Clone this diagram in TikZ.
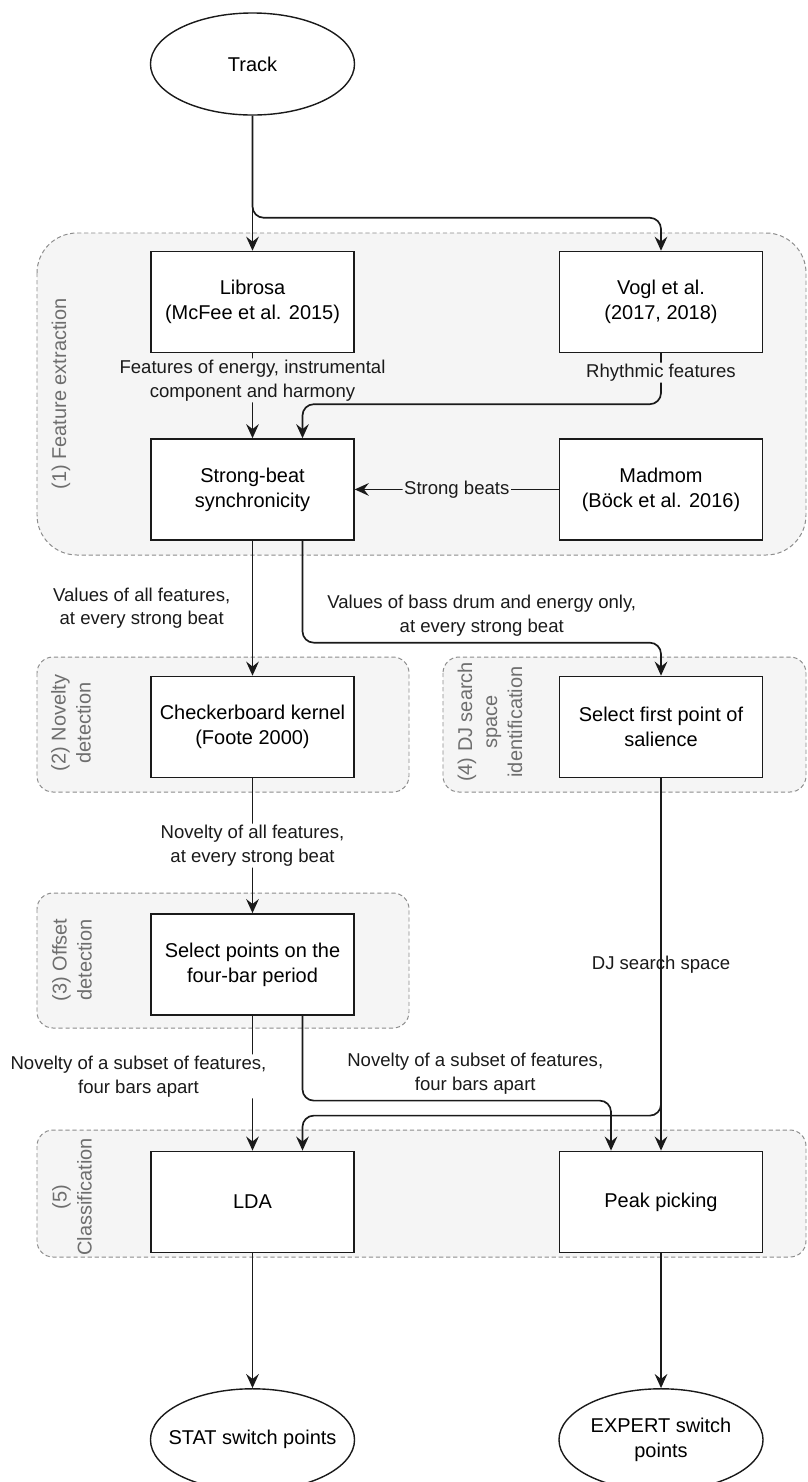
\documentclass[tikz,border=0pt]{standalone}
\usepackage{fontspec}
\setmainfont{Liberation Sans}
\usetikzlibrary{shapes.geometric,arrows.meta,positioning,calc}
\definecolor{fcline}{RGB}{26,26,26}
\definecolor{fcgroup}{RGB}{245,245,245}
\definecolor{fcdash}{RGB}{140,140,140}
\definecolor{fcgray}{RGB}{110,110,110}

\begin{document}
\begin{tikzpicture}[
  x=0.025cm, y=-0.025cm,
  node distance=3.375cm and 5.1cm,
  box/.style={draw=fcline,line width=1pt,fill=white,minimum width=5.075cm,
              minimum height=2.525cm,align=center,inner sep=2pt,
              font=\fontsize{14.2}{17.8}\selectfont},
  term/.style={box,ellipse,inner xsep=-0.3cm,inner ysep=0pt,
               minimum width=5.1cm,minimum height=2.55cm},
  grp/.style={draw=fcdash,dash pattern=on 3pt off 2pt,line width=0.7pt,fill=fcgroup},
  grplbl/.style={rotate=90,align=center,text=fcgray,font=\fontsize{14.2}{17.8}\selectfont},
  lbl/.style={align=center,inner sep=1pt,text=fcline,font=\fontsize{13.2}{17}\selectfont},
  arr/.style={-{Stealth[length=10pt,width=9pt,inset=3.5pt]},line width=1.2pt,color=fcline,
              rounded corners=8pt}]

  \useasboundingbox (0,0) rectangle (808,1482);

  % stage frames
  \draw[grp,rounded corners=1cm] (37,233) rectangle (806,555);
  \draw[grp,rounded corners=0.4cm] (37,657) rectangle (409,792);
  \draw[grp,rounded corners=0.4cm] (443,657) rectangle (806,792);
  \draw[grp,rounded corners=0.4cm] (37,893) rectangle (409,1028);
  \draw[grp,rounded corners=0.4cm] (37,1130) rectangle (806,1257);

  \node[grplbl] (g1) at (61,394) {(1) Feature extraction};
  \node[grplbl] (g2) at (71,723) {(2) Novelty\\detection};
  \node[grplbl] (g4) at (490,722) {(4) DJ search\\space\\identification};
  \node[grplbl] (g3) at (72,960) {(3) Offset\\detection};
  \node[grplbl] (g5) at (72,1197) {(5)\\Classification};

  % blocks
  \node[term] (track) at (252.5,64) {Track};
  \node[box,below=of track] (librosa) {Librosa\\(McFee et al. 2015)};
  \node[box,right=of librosa] (vogl) {Vogl et al.\\(2017, 2018)};
  \node[box,below=2.125cm of librosa] (strong) {Strong-beat\\synchronicity};
  \node[box,right=of strong] (madmom) {Madmom\\(Böck et al. 2016)};
  \node[box,below=of strong] (checker) {Checkerboard kernel\\(Foote 2000)};
  \node[box,right=of checker] (salience) {Select first point of\\salience};
  \node[box,below=of checker] (fourbar) {Select points on the\\four-bar period};
  \node[box,below=of fourbar] (lda) {LDA};
  \node[box,right=of lda] (peak) {Peak picking};
  \node[term,below=of lda] (stat) {STAT switch points};
  \node[term,below=of peak] (expert) {EXPERT switch\\points};

  % flows
  \draw[arr] (track) -- (librosa);
  \draw[arr] (track.south) |- ($(vogl.north)+(0,-33)$) -- (vogl.north);
  \draw[arr] (librosa) -- node[lbl,fill=fcgroup,pos=0.32]{Features of energy, instrumental\\component and harmony} (strong);
  \draw[arr] (vogl.south) |- node[lbl,fill=fcgroup,pos=0.19]{Rhythmic features} ($(strong.north)+(50,-34)$) -- ($(strong.north)+(50,0)$);
  \draw[arr] (madmom) -- node[lbl,fill=fcgroup]{Strong beats} (strong);
  \draw[arr] (strong) -- node[lbl,left=5mm]{Values of all features,\\at every strong beat} (checker);
  \draw[arr] ($(strong.south)+(50,0)$) |- node[lbl,above=3pt,pos=0.75]{Values of bass drum and energy only,\\at every strong beat} ($(salience.north)+(0,-33)$) -- (salience.north);
  \draw[arr] (checker) -- node[lbl,fill=white]{Novelty of all features,\\at every strong beat} (fourbar);
  \draw[arr] (salience) -- node[lbl,fill=white]{DJ search space} (peak);
  \draw[arr] (salience.south) |- ($(lda.north)+(50,-35)$) -- ($(lda.north)+(50,0)$);
  \draw[arr] (fourbar) -- node[lbl,fill=white,pos=0.45,xshift=-2.85cm]{Novelty of a subset of features,\\four bars apart} (lda);
  \draw[arr] ($(fourbar.south)+(50,0)$) |- node[lbl,above=3pt,pos=0.78]{Novelty of a subset of features,\\four bars apart} ($(peak.north)+(-50,-50)$) -- ($(peak.north)+(-50,0)$);
  \draw[arr] (lda) -- (stat);
  \draw[arr] (peak) -- (expert);
\end{tikzpicture}
\end{document}
